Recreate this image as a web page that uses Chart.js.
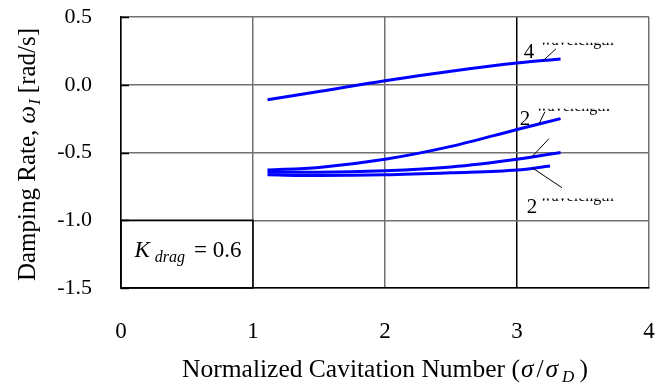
<!DOCTYPE html>
<html>
<head>
<meta charset="utf-8">
<script src="https://cdn.jsdelivr.net/npm/chart.js@4/dist/chart.umd.min.js"></script>
<style>
  html, body { margin: 0; padding: 0; background: #fff; }
  canvas { display: block; }
</style>
</head>
<body>
<canvas id="dampChart" width="669" height="385"></canvas>
<script>
// values
const sigmaLong = [1.11, 1.5, 2.0, 2.5, 3.0, 3.33];
const sigmaShort = [1.11, 1.5, 2.0, 2.5, 3.0, 3.25];
const wave4 = [-0.11, -0.05, 0.03, 0.10, 0.16, 0.19];
const wave2a = [-0.63, -0.61, -0.55, -0.455, -0.33, -0.25];
const wave2b = [-0.645, -0.645, -0.635, -0.607, -0.55, -0.50];
const wave2c = [-0.665, -0.67, -0.665, -0.65, -0.63, -0.60];
const xTicks = [0, 1, 2, 3, 4];
const yTicks = [-1.5, -1.0, -0.5, 0.0, 0.5];

const serif = '"Liberation Serif", "Times New Roman", serif';
const blue = '#0000ff';
const gridGray = '#707070';

function pts(xs, ys) {
  return xs.map((x, i) => ({ x: x, y: ys[i] }));
}

function series(xs, ys) {
  return {
    data: pts(xs, ys),
    borderColor: blue,
    borderWidth: 3,
    pointRadius: 0,
    fill: false,
    cubicInterpolationMode: 'monotone'
  };
}

// draw a run of differently styled pieces, centred on x
function richText(ctx, parts, x, y) {
  let total = 0;
  parts.forEach(p => { ctx.font = p.font; total += ctx.measureText(p.t).width + (p.gap || 0); });
  let cx = x - total / 2;
  parts.forEach(p => {
    ctx.font = p.font;
    ctx.fillText(p.t, cx, y + (p.dy || 0));
    cx += ctx.measureText(p.t).width + (p.gap || 0);
  });
}

function noOverflow(s) {
  s.paddingTop = 0;
  s.paddingBottom = 0;
  s.paddingLeft = 0;
  s.paddingRight = 0;
}

// leader lines and the half-hidden "wavelength" captions, in data units
const leaders = [
  [3.197, 0.177, 3.295, 0.265],
  [3.167, -0.288, 3.212, -0.199],
  [3.114, -0.531, 3.242, -0.398],
  [3.114, -0.612, 3.341, -0.760]
];
const captions = [
  { n: '4', x: 3.09, y: 0.236, wx: 3.174, wy: 0.295 },
  { n: '2', x: 3.06, y: -0.258, wx: 3.144, wy: -0.192 },
  { n: '2', x: 3.114, y: -0.907, wx: 3.174, wy: -0.855 }
];

const overlay = {
  id: 'overlay',
  afterDraw(chart) {
    const ctx = chart.ctx;
    const xs = chart.scales.x, ys = chart.scales.y;
    const area = chart.chartArea;
    ctx.save();

    // little inward ticks on the left axis
    ctx.strokeStyle = '#000';
    ctx.lineWidth = 1.5;
    yTicks.forEach(v => {
      const py = Math.round(ys.getPixelForValue(v)) + 0.5;
      ctx.beginPath();
      ctx.moveTo(area.left, py);
      ctx.lineTo(area.left + 8, py);
      ctx.stroke();
    });

    // K_drag box
    const bx0 = xs.getPixelForValue(0), bx1 = xs.getPixelForValue(1);
    const by0 = ys.getPixelForValue(-1.0), by1 = ys.getPixelForValue(-1.5);
    ctx.strokeRect(bx0, by0, bx1 - bx0, by1 - by0);
    ctx.fillStyle = '#000';
    ctx.textBaseline = 'alphabetic';
    ctx.textAlign = 'left';
    richText(ctx, [
      { t: 'K', font: 'italic 23px ' + serif, gap: 5 },
      { t: 'drag', font: 'italic 16px ' + serif, dy: 5, gap: 9 },
      { t: '= 0.6', font: '23px ' + serif }
    ], (bx0 + bx1) / 2 + 1, by0 + 37);

    // leader lines
    ctx.lineWidth = 1;
    leaders.forEach(l => {
      ctx.beginPath();
      ctx.moveTo(xs.getPixelForValue(l[0]), ys.getPixelForValue(l[1]));
      ctx.lineTo(xs.getPixelForValue(l[2]), ys.getPixelForValue(l[3]));
      ctx.stroke();
    });

    // curve labels
    captions.forEach(c => {
      ctx.font = '21px ' + serif;
      ctx.textAlign = 'center';
      ctx.textBaseline = 'middle';
      ctx.fillText(c.n, xs.getPixelForValue(c.x), ys.getPixelForValue(c.y));
      const wx = xs.getPixelForValue(c.wx), wy = ys.getPixelForValue(c.wy);
      ctx.save();
      ctx.beginPath();
      ctx.rect(wx - 2, wy - 2, 80, 8);
      ctx.clip();
      ctx.font = '16px ' + serif;
      ctx.textAlign = 'left';
      ctx.textBaseline = 'alphabetic';
      ctx.fillText('wavelength', wx, wy);
      ctx.restore();
    });

    // axis titles
    ctx.textAlign = 'left';
    ctx.textBaseline = 'alphabetic';
    richText(ctx, [
      { t: 'Normalized Cavitation Number (', font: '25.5px ' + serif, gap: 1 },
      { t: 'σ', font: 'italic 25.5px ' + serif, gap: 3 },
      { t: '/', font: '25.5px ' + serif, gap: 2 },
      { t: 'σ', font: 'italic 25.5px ' + serif, gap: 4 },
      { t: 'D', font: 'italic 17px ' + serif, dy: 5, gap: 5 },
      { t: ')', font: '25.5px ' + serif }
    ], 385, 377);

    ctx.translate(35, (area.top + area.bottom) / 2 + 2);
    ctx.rotate(-Math.PI / 2);
    richText(ctx, [
      { t: 'Damping Rate, ', font: '25px ' + serif },
      { t: 'ω', font: 'italic 25px ' + serif, gap: 1 },
      { t: 'I', font: 'italic 17px ' + serif, dy: 5, gap: 6 },
      { t: '[rad/s]', font: '25px ' + serif }
    ], 0, 0);

    ctx.restore();
  }
};

new Chart(document.getElementById('dampChart'), {
  type: 'line',
  data: {
    datasets: [
      series(sigmaLong, wave4),
      series(sigmaLong, wave2a),
      series(sigmaLong, wave2b),
      series(sigmaShort, wave2c)
    ]
  },
  options: {
    responsive: false,
    animation: false,
    clip: false,
    layout: { padding: { top: 17, right: 20, left: 0, bottom: 0 } },
    plugins: { legend: { display: false }, tooltip: { enabled: false } },
    scales: {
      x: {
        type: 'linear',
        min: 0,
        max: 4,
        afterBuildTicks: s => { s.ticks = xTicks.map(v => ({ value: v })); },
        afterFit: s => { s.height = 97; noOverflow(s); },
        ticks: { color: '#000', padding: 30, font: { family: serif, size: 23 }, callback: v => String(v) },
        grid: { drawTicks: false, lineWidth: 1.5, color: c => (c.tick && c.tick.value === 3 ? '#000' : gridGray) },
        border: { color: '#000', width: 1.5 }
      },
      y: {
        type: 'linear',
        min: -1.5,
        max: 0.5,
        afterBuildTicks: s => { s.ticks = yTicks.map(v => ({ value: v })); },
        afterFit: s => { s.width = 121; noOverflow(s); },
        ticks: { color: '#000', padding: 29, font: { family: serif, size: 22 }, callback: v => v.toFixed(1) },
        grid: { drawTicks: false, lineWidth: 1.5, color: gridGray },
        border: { color: '#000', width: 1.5 }
      }
    }
  },
  plugins: [overlay]
});
</script>
</body>
</html>
